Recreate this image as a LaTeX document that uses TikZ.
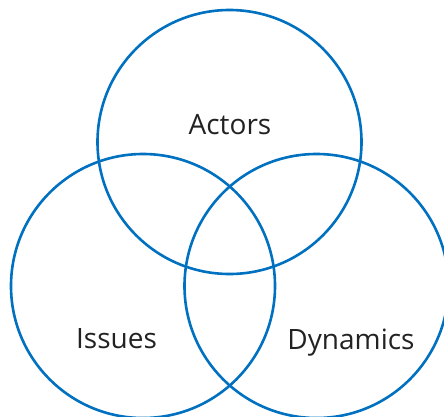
\documentclass[tikz,border=0pt]{standalone}
\usepackage{fontspec}
\setmainfont{Open Sans}
\definecolor{ringblue}{RGB}{0,112,192}
\definecolor{labelgray}{RGB}{34,34,34}
\begin{document}
\begin{tikzpicture}[x=1pt,y=-1pt,
  ring/.style={draw=ringblue,line width=2.6pt,circle,minimum size=264pt,inner sep=0pt},
  lab/.style={text=labelgray,font=\fontsize{28}{32}\selectfont,anchor=base,inner sep=0pt}]
\useasboundingbox (0,0) rectangle (444,416);
\clip (0,0) rectangle (444,416);
\node[ring] (actors) at (229.5,142) {};
\node[ring] (issues) at (143,286) {};
\node[ring] (dynamics) at (316.5,286) {};
\node[lab] (tA) at (230,134) {Actors};
\node[lab] (tI) at (116.5,348) {Issues};
\node[lab] (tD) at (351,349) {Dynamics};
\end{tikzpicture}
\end{document}
